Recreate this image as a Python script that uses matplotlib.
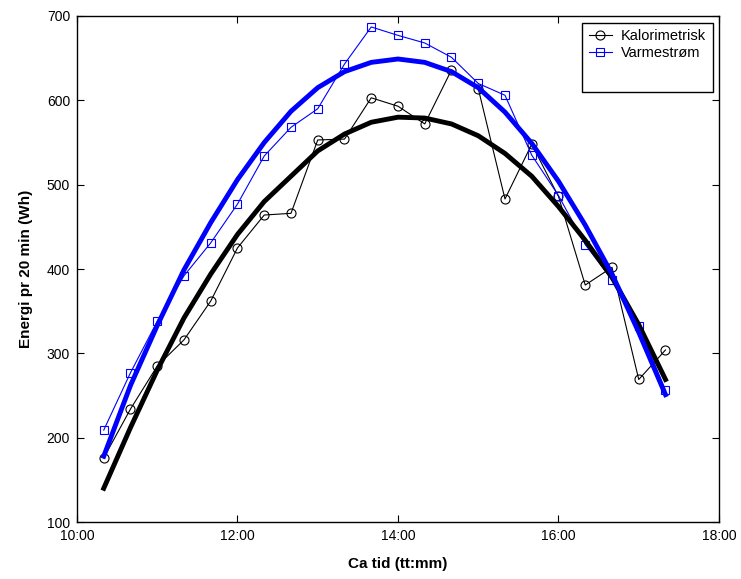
import numpy as np
import matplotlib
matplotlib.use('Agg')
import matplotlib.pyplot as plt
from matplotlib.lines import Line2D
from matplotlib.patches import Rectangle
from matplotlib.ticker import FuncFormatter

plt.rcParams['font.family'] = ['Liberation Sans', 'DejaVu Sans']

# Measurement times (every 20 min)
times = ['10:20', '10:40', '11:00', '11:20', '11:40', '12:00', '12:20', '12:40',
         '13:00', '13:20', '13:40', '14:00', '14:20', '14:40', '15:00', '15:20',
         '15:40', '16:00', '16:20', '16:40', '17:00', '17:20']

# Energy per 20 min (Wh)
kalorimetrisk = [176, 234, 285, 316, 362, 425, 464, 466, 553, 554, 603, 593,
                 572, 636, 614, 483, 548, 486, 381, 402, 269, 304]
varmestrom = [209, 277, 338, 392, 431, 477, 534, 568, 590, 643, 687, 677,
              668, 651, 620, 606, 535, 487, 429, 387, 332, 256]

# Fitted trend curves
kal_fit = [140, 212, 280, 342, 394, 441, 480, 510, 540, 560, 574, 580,
           579, 572, 558, 537, 510, 474, 434, 390, 334, 269]
var_fit = [178, 262, 333, 399, 455, 506, 550, 587, 615, 634, 645, 649,
           645, 634, 615, 586, 549, 504, 452, 394, 325, 251]

x_ticks = [10, 12, 14, 16, 18]
y_ticks = [100, 200, 300, 400, 500, 600, 700]


def to_hours(t):
    h, m = t.split(':')
    return int(h) + int(m) / 60.0


x = np.array([to_hours(t) for t in times])

fig = plt.figure(figsize=(7.41, 5.79), dpi=100)
ax = fig.add_axes([0.1039, 0.0984, 0.8664, 0.874])

ax.plot(x, kalorimetrisk, '-o', color='black', lw=0.8, ms=6.5, mfc='none', mew=0.8)
ax.plot(x, varmestrom, '-s', color='blue', lw=0.8, ms=6, mfc='none', mew=0.8)
ax.plot(x, kal_fit, '-', color='black', lw=3.5)
ax.plot(x, var_fit, '-', color='blue', lw=3.5)

ax.set_xlim(10, 18)
ax.set_ylim(100, 700)
ax.set_xticks(x_ticks)
ax.set_yticks(y_ticks)
ax.xaxis.set_major_formatter(FuncFormatter(lambda v, p: '%02d:00' % int(v)))
ax.tick_params(direction='in', top=True, right=True, length=5, width=0.8,
               labelsize=10, pad=5)
for s in ax.spines.values():
    s.set_linewidth(1.0)

ax.set_xlabel('Ca tid (tt:mm)', fontsize=11, fontweight='bold', labelpad=10)
ax.set_ylabel('Energi pr 20 min (Wh)', fontsize=11, fontweight='bold', labelpad=10)

# MATLAB-style legend box with empty space below the entries
box = Rectangle((0.7866, 0.850), 0.2041, 0.1364, transform=ax.transAxes,
                facecolor='white', edgecolor='black', lw=1.0, zorder=4)
ax.add_patch(box)

handles = [
    Line2D([], [], color='black', marker='o', lw=0.8, ms=6.5, mfc='none', mew=0.8),
    Line2D([], [], color='blue', marker='s', lw=0.8, ms=6, mfc='none', mew=0.8),
]
leg = ax.legend(handles, ['Kalorimetrisk', 'Varmestrøm'], loc='upper left',
                bbox_to_anchor=(0.7866, 0.9864), bbox_transform=ax.transAxes,
                fontsize=10.5, frameon=False, borderaxespad=0,
                handlelength=1.6, handletextpad=0.6, labelspacing=0.18,
                borderpad=0.45)
leg.set_zorder(5)

fig.savefig('out.png', dpi=100)
